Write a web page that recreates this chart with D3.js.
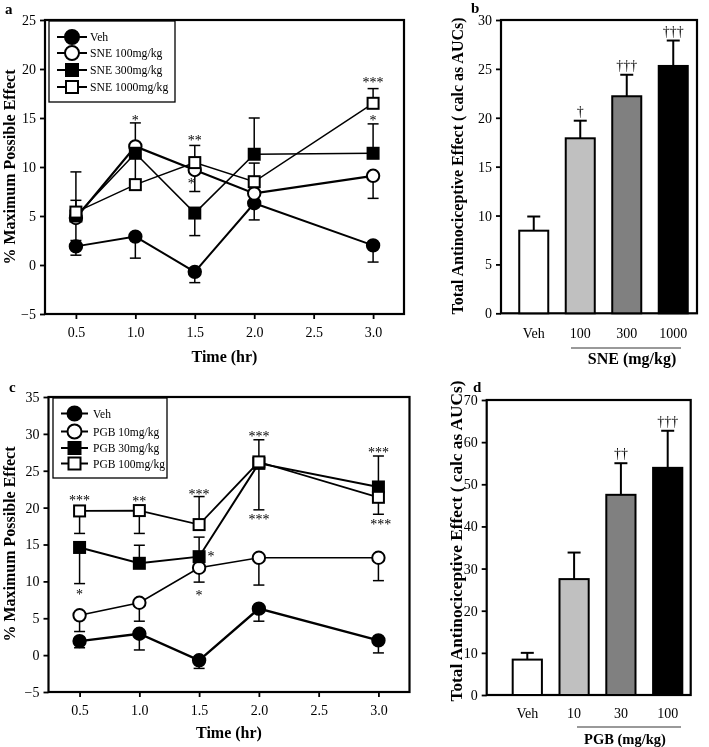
<!DOCTYPE html>
<html><head><meta charset="utf-8">
<script src="https://cdn.jsdelivr.net/npm/d3@7"></script>
<style>
body{margin:0;background:#fff}
svg{display:block;filter:grayscale(100%)}
text{font-family:"Liberation Serif","Times New Roman",serif;fill:#000}
</style>
</head><body>
<svg id="chart" width="709" height="747"></svg>
<script>
// ---------------- DATA ----------------
const times = [0.5, 1.0, 1.5, 2.0, 3.0];
const xTicks = [0.5, 1.0, 1.5, 2.0, 2.5, 3.0];
const yTicksA = [-5, 0, 5, 10, 15, 20, 25];
const yTicksC = [-5, 0, 5, 10, 15, 20, 25, 30, 35];

// vehicle (same group shown in a and c); err = end value of the one-sided error bar
const vehMean = [1.9, 2.9, -0.7, 6.3, 2.0];
const vehErr  = [1.0, 0.7, -1.8, 4.6, 0.3];

// panel a: SNE
const sne100Mean  = [4.8, 12.1, 9.7, 7.3, 9.1];
const sne100Err   = [2.5, 14.5, 7.5, null, 6.8];
const sne300Mean  = [5.0, 11.4, 5.3, 11.3, 11.4];
const sne300Err   = [6.6, null, 3.0, 15.0, 14.4];
const sne1000Mean = [5.4, 8.2, 10.45, 8.5, 16.5];
const sne1000Err  = [9.5, 11.0, 12.2, 10.4, 18.0];
const legendA = ["Veh", "SNE 100mg/kg", "SNE 300mg/kg", "SNE 1000mg/kg"];
// significance marks: [time, value, label]
const notesA = [[1.0, 15.0, "*"], [1.5, 12.9, "**"], [1.47, 8.5, "*"], [3.0, 18.85, "***"], [3.0, 15.0, "*"]];

// panel c: PGB
const pgb10Mean  = [5.4, 7.1, 11.85, 13.2, 13.2];
const pgb10Err   = [3.2, 4.6, 9.9, 9.5, 10.1];
const pgb30Mean  = [14.6, 12.45, 13.35, 26.0, 22.8];
const pgb30Err   = [9.7, 14.9, 16.0, 19.7, 27.0];
const pgb100Mean = [19.55, 19.6, 17.7, 26.2, 21.4];
const pgb100Err  = [16.5, 16.5, 21.5, 29.2, 19.1];
const legendC = ["Veh", "PGB 10mg/kg", "PGB 30mg/kg", "PGB 100mg/kg"];
const notesC = [[0.5, 21.2, "***"], [0.5, 8.5, "*"], [1.0, 21.1, "**"], [1.5, 22.1, "***"],
                [1.6, 13.7, "*"], [1.5, 8.4, "*"], [2.0, 29.9, "***"], [2.0, 18.7, "***"],
                [3.0, 27.7, "***"], [3.02, 18.0, "***"]];

// panel b: SNE AUC
const catsB = ["Veh", "100", "300", "1000"];
const aucB = [8.45, 17.9, 22.2, 25.3];
const aucBErr = [9.9, 19.7, 24.4, 27.9];
const marksB = ["", "\u2020", "\u2020\u2020\u2020", "\u2020\u2020\u2020"];
const yTicksB = [0, 5, 10, 15, 20, 25, 30];

// panel d: PGB AUC
const catsD = ["Veh", "10", "30", "100"];
const aucD = [8.4, 27.5, 47.5, 53.9];
const aucDErr = [10.0, 33.8, 55.0, 62.7];
const marksD = ["", "", "\u2020\u2020", "\u2020\u2020\u2020"];
const yTicksD = [0, 10, 20, 30, 40, 50, 60, 70];

const barFills = ["#ffffff", "#c0c0c0", "#808080", "#000000"];

// ---------------- DRAWING ----------------
const svg = d3.select("#chart");
const FONT = '"Liberation Serif","Times New Roman",serif';

function marker(g, shape, fill, cx, cy, big) {
  if (shape === "circle") {
    g.append("circle").attr("cx", cx).attr("cy", cy).attr("r", big ? 7 : 6.2)
      .attr("fill", fill).attr("stroke", "#000").attr("stroke-width", 2);
  } else {
    const s = big ? 12 : 11;
    g.append("rect").attr("x", cx - s / 2).attr("y", cy - s / 2).attr("width", s).attr("height", s)
      .attr("fill", fill).attr("stroke", "#000").attr("stroke-width", 2);
  }
}

function linePanel(cfg) {
  const g = svg.append("g");
  const x = d3.scaleLinear().domain([0.24, 3.26]).range([cfg.x0, cfg.x1]);
  const y = d3.scaleLinear().domain(cfg.yDomain).range([cfg.y1, cfg.y0]);

  const ax = g.append("g").attr("transform", `translate(${cfg.x0},0)`)
    .call(d3.axisLeft(y).tickValues(cfg.yTicks).tickSize(5).tickPadding(4).tickFormat(d3.format("d")));
  const bx = g.append("g").attr("transform", `translate(0,${cfg.y1})`)
    .call(d3.axisBottom(x).tickValues(xTicks).tickSize(5).tickPadding(8).tickFormat(d3.format(".1f")));
  [ax, bx].forEach(a => {
    a.select(".domain").remove();
    a.selectAll(".tick line").attr("stroke", "#000").attr("stroke-width", 1.8);
    a.selectAll("text").attr("font-family", FONT).attr("font-size", 14).attr("fill", "#000");
  });
  g.append("rect").attr("x", cfg.x0).attr("y", cfg.y0).attr("width", cfg.x1 - cfg.x0)
    .attr("height", cfg.y1 - cfg.y0).attr("fill", "none").attr("stroke", "#000").attr("stroke-width", 2.2);

  const line = d3.line().x((d, i) => x(times[i])).y(d => y(d));
  cfg.series.forEach(s => {
    const sg = g.append("g");
    sg.append("path").attr("d", line(s.mean)).attr("fill", "none")
      .attr("stroke", "#000").attr("stroke-width", s.lw);
    s.err.forEach((e, i) => {
      if (e === null) return;
      const xx = x(times[i]);
      sg.append("line").attr("x1", xx).attr("x2", xx).attr("y1", y(s.mean[i])).attr("y2", y(e))
        .attr("stroke", "#000").attr("stroke-width", 1.5);
      sg.append("line").attr("x1", xx - 5.5).attr("x2", xx + 5.5).attr("y1", y(e)).attr("y2", y(e))
        .attr("stroke", "#000").attr("stroke-width", 1.5);
    });
    s.mean.forEach((m, i) => marker(sg, s.shape, s.fill, x(times[i]), y(m), false));
  });

  cfg.notes.forEach(n => {
    g.append("text").attr("x", x(n[0])).attr("y", y(n[1]) + 6.6)
      .attr("text-anchor", "middle").attr("font-size", 14).attr("fill", "#222").text(n[2]);
  });

  const L = cfg.legend;
  g.append("rect").attr("x", L.x).attr("y", L.y).attr("width", L.w).attr("height", L.h)
    .attr("fill", "#fff").attr("stroke", "#000").attr("stroke-width", 1.3);
  cfg.series.forEach((s, i) => {
    const ry = L.rows[i];
    g.append("line").attr("x1", L.lx0).attr("x2", L.lx1).attr("y1", ry).attr("y2", ry)
      .attr("stroke", "#000").attr("stroke-width", 2);
    marker(g, s.shape, s.fill, (L.lx0 + L.lx1) / 2, ry, true);
    g.append("text").attr("x", L.tx).attr("y", ry + 4.2).attr("font-size", L.fs).text(cfg.names[i]);
  });

  g.append("text").attr("transform", `translate(${cfg.ylx},${cfg.ylc}) rotate(-90)`)
    .attr("text-anchor", "middle").attr("font-size", 16).attr("font-weight", "bold")
    .text("% Maximum Possible Effect");
  g.append("text").attr("x", (cfg.x0 + cfg.x1) / 2).attr("y", cfg.xly)
    .attr("text-anchor", "middle").attr("font-size", 16).attr("font-weight", "bold").text("Time (hr)");
  g.append("text").attr("x", cfg.px).attr("y", cfg.py).attr("font-size", 15).attr("font-weight", "bold").text(cfg.plabel);
}

function barPanel(cfg) {
  const g = svg.append("g");
  const x = d3.scaleBand().domain(cfg.cats).range([cfg.bx0, cfg.bx1]).paddingInner(0.376).paddingOuter(0.188);
  const y = d3.scaleLinear().domain(cfg.yDomain).range([cfg.y1, cfg.y0]);
  const ax = g.append("g").attr("transform", `translate(${cfg.x0},0)`)
    .call(d3.axisLeft(y).tickValues(cfg.yTicks).tickSize(5).tickPadding(4));
  ax.select(".domain").remove();
  ax.selectAll(".tick line").attr("stroke", "#000").attr("stroke-width", 1.8);
  ax.selectAll("text").attr("font-family", FONT).attr("font-size", 14).attr("fill", "#000");
  g.append("rect").attr("x", cfg.x0).attr("y", cfg.y0).attr("width", cfg.x1 - cfg.x0)
    .attr("height", cfg.y1 - cfg.y0).attr("fill", "none").attr("stroke", "#000").attr("stroke-width", 2.2);

  const bw = x.bandwidth();
  cfg.cats.forEach((c, i) => {
    const cx = x(c) + bw / 2;
    g.append("line").attr("x1", cx).attr("x2", cx).attr("y1", y(cfg.vals[i])).attr("y2", y(cfg.errs[i]))
      .attr("stroke", "#000").attr("stroke-width", 2);
    g.append("line").attr("x1", cx - 6.5).attr("x2", cx + 6.5).attr("y1", y(cfg.errs[i])).attr("y2", y(cfg.errs[i]))
      .attr("stroke", "#000").attr("stroke-width", 2);
    g.append("rect").attr("x", x(c)).attr("y", y(cfg.vals[i])).attr("width", bw)
      .attr("height", y(0) - y(cfg.vals[i])).attr("fill", barFills[i])
      .attr("stroke", "#000").attr("stroke-width", 2);
    g.append("text").attr("x", cx).attr("y", cfg.catY).attr("text-anchor", "middle").attr("font-size", 14).text(c);
    if (cfg.marks[i]) g.append("text").attr("x", cx).attr("y", y(cfg.errs[i]) - 5)
      .attr("text-anchor", "middle").attr("font-size", 14).attr("fill", "#222").text(cfg.marks[i]);
  });
  g.append("line").attr("x1", cfg.ulx0).attr("x2", cfg.ulx1).attr("y1", cfg.uly).attr("y2", cfg.uly)
    .attr("stroke", "#777").attr("stroke-width", 1.5);
  g.append("text").attr("x", cfg.gx).attr("y", cfg.gy).attr("text-anchor", "middle")
    .attr("font-size", cfg.gfs).attr("font-weight", "bold").text(cfg.group);
  g.append("text").attr("transform", `translate(${cfg.ylx},${cfg.ylc}) rotate(-90)`)
    .attr("text-anchor", "middle").attr("font-size", cfg.ylfs).attr("font-weight", "bold")
    .text("Total Antinociceptive Effect ( calc as AUCs)");
  g.append("text").attr("x", cfg.px).attr("y", cfg.py).attr("font-size", 15).attr("font-weight", "bold").text(cfg.plabel);
}

linePanel({
  x0: 45, x1: 404, y0: 20, y1: 314, yDomain: [-5, 25], yTicks: yTicksA,
  series: [
    {mean: vehMean, err: vehErr, shape: "circle", fill: "#000", lw: 2},
    {mean: sne100Mean, err: sne100Err, shape: "circle", fill: "#fff", lw: 2.2},
    {mean: sne300Mean, err: sne300Err, shape: "square", fill: "#000", lw: 1.6},
    {mean: sne1000Mean, err: sne1000Err, shape: "square", fill: "#fff", lw: 1.5}
  ],
  names: legendA, notes: notesA,
  legend: {x: 49, y: 21, w: 126, h: 81, rows: [37, 53, 70, 87], lx0: 57, lx1: 87, tx: 90, fs: 11.7},
  ylx: 15, ylc: 167, xly: 362, px: 5, py: 14, plabel: "a"
});

linePanel({
  x0: 48.5, x1: 409.5, y0: 397, y1: 692, yDomain: [-5, 35], yTicks: yTicksC,
  series: [
    {mean: vehMean, err: vehErr, shape: "circle", fill: "#000", lw: 2.4},
    {mean: pgb10Mean, err: pgb10Err, shape: "circle", fill: "#fff", lw: 1.6},
    {mean: pgb30Mean, err: pgb30Err, shape: "square", fill: "#000", lw: 2},
    {mean: pgb100Mean, err: pgb100Err, shape: "square", fill: "#fff", lw: 1.8}
  ],
  names: legendC, notes: notesC,
  legend: {x: 53, y: 398, w: 114, h: 80, rows: [413.5, 431.5, 448, 463.5], lx0: 61, lx1: 88, tx: 93, fs: 11.5},
  ylx: 15, ylc: 544, xly: 738, px: 9, py: 392, plabel: "c"
});

barPanel({
  x0: 501, x1: 697, y0: 20, y1: 313.3, bx0: 510.5, bx1: 696.5, yDomain: [0, 30], yTicks: yTicksB,
  cats: catsB, vals: aucB, errs: aucBErr, marks: marksB, catY: 338,
  ulx0: 571, ulx1: 681, uly: 348, group: "SNE (mg/kg)", gx: 632, gy: 364, gfs: 16,
  ylx: 463, ylc: 166, ylfs: 16, px: 471, py: 13, plabel: "b"
});

barPanel({
  x0: 486.7, x1: 690.7, y0: 400, y1: 695, bx0: 503.9, bx1: 691.1, yDomain: [0, 70], yTicks: yTicksD,
  cats: catsD, vals: aucD, errs: aucDErr, marks: marksD, catY: 718,
  ulx0: 577, ulx1: 681, uly: 727, group: "PGB (mg/kg)", gx: 625, gy: 744, gfs: 14.5,
  ylx: 462, ylc: 541, ylfs: 17.3, px: 473, py: 392, plabel: "d"
});
</script>
</body></html>
